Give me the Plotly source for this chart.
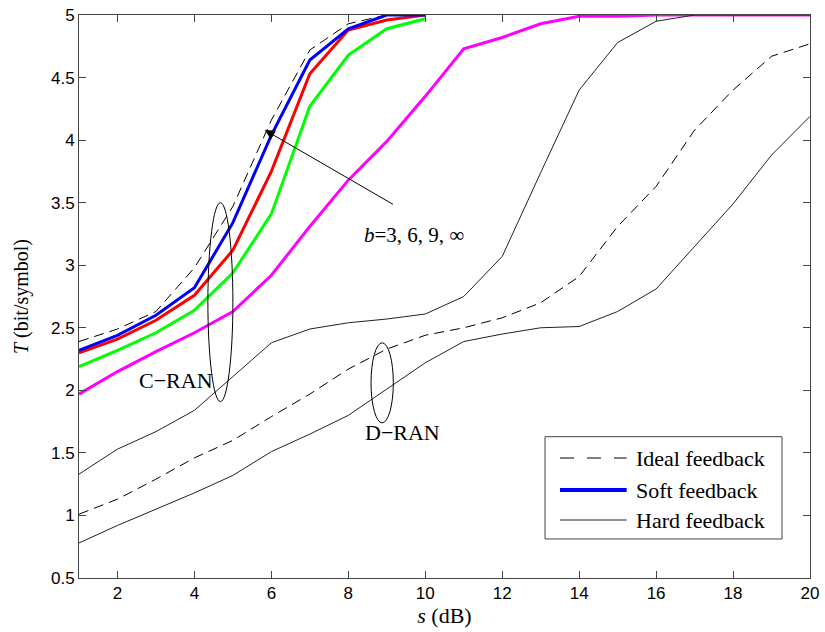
import plotly.graph_objects as go

# ---------------- data ----------------
s_cran = [1, 2, 3, 4, 5, 6, 7, 8, 9, 10]
s_full = list(range(1, 21))

cran_ideal = [2.39, 2.49, 2.63, 2.98, 3.47, 4.16, 4.72, 4.93, 5.0, 5.0]
cran_b3 = [2.32, 2.44, 2.60, 2.82, 3.34, 4.04, 4.64, 4.89, 5.0, 5.0]     # blue
cran_b6 = [2.30, 2.41, 2.56, 2.76, 3.12, 3.75, 4.53, 4.88, 4.96, 5.0]    # red
cran_b9 = [2.19, 2.32, 2.46, 2.64, 2.94, 3.41, 4.27, 4.68, 4.89, 4.97]   # green
cran_binf = [1.97, 2.15, 2.31, 2.46, 2.63, 2.92, 3.31, 3.68, 3.99, 4.35,
             4.73, 4.82, 4.93, 4.99, 4.99, 5.0, 5.0, 5.0, 5.0, 5.0]       # magenta
cran_hard = [1.33, 1.53, 1.67, 1.84, 2.11, 2.38, 2.49, 2.54, 2.57, 2.61,
             2.75, 3.07, 3.74, 4.40, 4.78, 4.95, 5.0, 5.0, 5.0, 5.0]
dran_ideal = [1.01, 1.13, 1.29, 1.46, 1.60, 1.79, 1.97, 2.17, 2.33, 2.44,
              2.50, 2.58, 2.70, 2.91, 3.31, 3.63, 4.08, 4.40, 4.67, 4.77]
dran_hard = [0.78, 0.92, 1.05, 1.18, 1.32, 1.51, 1.65, 1.80, 2.01, 2.22,
             2.39, 2.45, 2.50, 2.51, 2.63, 2.81, 3.15, 3.49, 3.88, 4.19]

x_ticks = [2, 4, 6, 8, 10, 12, 14, 16, 18, 20]
y_ticks = [0.5, 1, 1.5, 2, 2.5, 3, 3.5, 4, 4.5, 5]
y_tick_text = ["0.5", "1", "1.5", "2", "2.5", "3", "3.5", "4", "4.5", "5"]

legend_names = ["Ideal feedback", "Soft feedback", "Hard feedback"]

# annotation anchors (data coords)
cran_ellipse = dict(x0=4.35, x1=5.0, y0=1.91, y1=3.50)
dran_ellipse = dict(x0=8.59, x1=9.17, y0=1.74, y1=2.38)
arrow_head = (5.83, 4.08)
arrow_tail = (9.2, 3.48)

SERIF = "Liberation Serif, Times New Roman, serif"
SANS = "Liberation Sans Narrow, Liberation Sans, Arial, sans-serif"

fig = go.Figure()
dash_style = "10px,6px"

ideal_line = dict(color="black", width=1, dash=dash_style)
soft_line = dict(color="#0000ff", width=3)
hard_line = dict(color="#222222", width=1)

fig.add_trace(go.Scatter(x=s_cran, y=cran_ideal, mode="lines", name=legend_names[0],
                         line=ideal_line))
fig.add_trace(go.Scatter(x=s_full, y=cran_binf, mode="lines", name="b=∞",
                         line=dict(color="#ff00ff", width=3)))
fig.add_trace(go.Scatter(x=s_cran, y=cran_b9, mode="lines", name="b=9",
                         line=dict(color="#00ff00", width=3)))
fig.add_trace(go.Scatter(x=s_cran, y=cran_b6, mode="lines", name="b=6",
                         line=dict(color="#ff0000", width=3)))
fig.add_trace(go.Scatter(x=s_cran, y=cran_b3, mode="lines", name=legend_names[1],
                         line=soft_line))
fig.add_trace(go.Scatter(x=s_full, y=cran_hard, mode="lines", name=legend_names[2],
                         line=hard_line))
fig.add_trace(go.Scatter(x=s_full, y=dran_ideal, mode="lines", name="D-RAN ideal",
                         line=ideal_line))
fig.add_trace(go.Scatter(x=s_full, y=dran_hard, mode="lines", name="D-RAN hard",
                         line=hard_line))

# ellipses
for e in (cran_ellipse, dran_ellipse):
    fig.add_shape(type="circle", xref="x", yref="y", line=dict(color="black", width=1),
                  **e)

# arrow
fig.add_annotation(x=arrow_head[0], y=arrow_head[1], ax=arrow_tail[0], ay=arrow_tail[1],
                   xref="x", yref="y", axref="x", ayref="y", text="", showarrow=True,
                   arrowhead=2, arrowsize=2, arrowwidth=1, arrowcolor="black")
fig.add_annotation(x=8.36, y=3.24, xref="x", yref="y", xanchor="left", showarrow=False,
                   text="<i>b</i>=3, 6, 9, ∞", font=dict(family=SERIF, size=21, color="black"))
fig.add_annotation(x=3.52, y=2.08, xref="x", yref="y", showarrow=False,
                   text="C−RAN", font=dict(family=SERIF, size=22, color="black"))
fig.add_annotation(x=9.42, y=1.66, xref="x", yref="y", showarrow=False,
                   text="D−RAN", font=dict(family=SERIF, size=22, color="black"))

# legend box (MATLAB-style), drawn in paper coordinates
leg_box = dict(x0=0.6375, x1=0.9617, y0=0.0693, y1=0.251)
leg_line_x = (0.6580, 0.7492)
leg_text_x = 0.7592
leg_rows_y = [0.2131, 0.1563, 0.1030]
leg_styles = [dict(color="black", width=1, dash="14px,13px"),
              dict(color="#0000ff", width=4, dash="solid"),
              dict(color="#222222", width=1, dash="solid")]

fig.add_shape(type="rect", xref="paper", yref="paper", fillcolor="white",
              line=dict(color="#444444", width=1), layer="above", **leg_box)
for name, yy, st in zip(legend_names, leg_rows_y, leg_styles):
    fig.add_shape(type="line", xref="paper", yref="paper", layer="above",
                  x0=leg_line_x[0], x1=leg_line_x[1], y0=yy, y1=yy, line=st)
    fig.add_annotation(x=leg_text_x, y=yy, xref="paper", yref="paper", xanchor="left",
                       yanchor="middle", showarrow=False, text=name,
                       font=dict(family=SERIF, size=22, color="black"))

axis_common = dict(showgrid=False, zeroline=False, showline=True, linecolor="#444444",
                   linewidth=1, mirror="ticks", ticks="inside", ticklen=7,
                   tickcolor="#444444", automargin=False,
                   tickfont=dict(family=SANS, size=17, color="black"))

fig.update_xaxes(range=[1, 20], tickvals=x_ticks,
                 title=dict(text="<i>s</i> (dB)", font=dict(family=SERIF, size=22, color="black"),
                            standoff=2),
                 **axis_common)
fig.update_yaxes(range=[0.5, 5], tickvals=y_ticks, ticktext=y_tick_text,
                 title=dict(text="<i>T</i> (bit/symbol)", font=dict(family=SERIF, size=20, color="black"),
                            standoff=16),
                 **axis_common)

fig.update_layout(
    width=825, height=632,
    margin=dict(l=79, r=15, t=15, b=54, autoexpand=False),
    paper_bgcolor="white", plot_bgcolor="white",
    showlegend=False,
)

fig.write_html("out.html")
